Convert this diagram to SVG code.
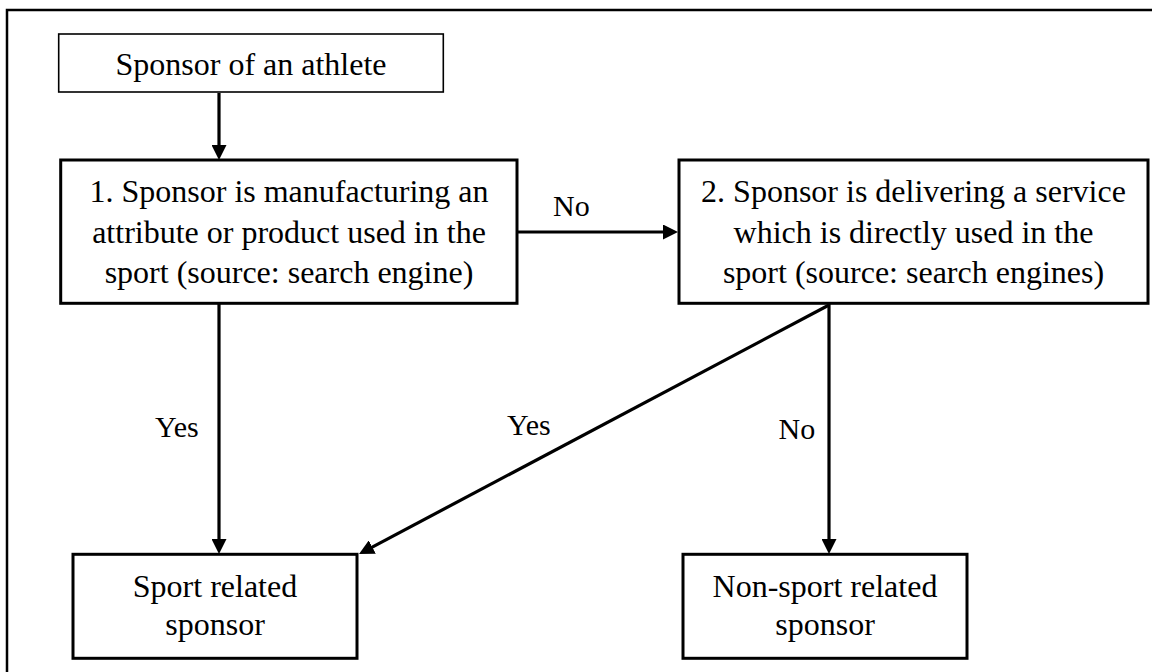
<svg xmlns="http://www.w3.org/2000/svg" width="1152" height="672" viewBox="0 0 1152 672">
<style>
.box{fill:#fff;stroke:#000;stroke-width:3}
.thin{fill:#fff;stroke:#000;stroke-width:1.6}
.t{font-size:32px;fill:#000;text-anchor:middle}
.l{font-size:30px;fill:#000}
.c{stroke:#000;stroke-width:3.2;fill:none;marker-end:url(#ah)}
</style>
<defs>
<marker id="ah" markerUnits="userSpaceOnUse" viewBox="0 0 15 15" refX="7" refY="7.5" markerWidth="15" markerHeight="15" orient="auto">
<path d="M0,0 L15,7.5 L0,15 Z" fill="#000"/>
</marker>
</defs>
<rect x="0" y="0" width="1152" height="672" fill="#fff"/>
<rect x="7" y="10" width="1160" height="680" fill="none" stroke="#000" stroke-width="2.5"/>
<g id="connectors">
<line class="c" x1="219" y1="93" x2="219" y2="152"/>
<line class="c" x1="517" y1="232" x2="670" y2="232"/>
<line class="c" x1="219" y1="303" x2="219" y2="546"/>
<line class="c" x1="829" y1="303" x2="829" y2="546"/>
<line class="c" x1="829" y1="305" x2="366.1" y2="550.3"/>
</g>
<g font-family="'Liberation Serif', 'Times New Roman', 'DejaVu Serif', serif">
<g id="labels">
<text class="l" x="553" y="216">No</text>
<text class="l" x="155" y="437">Yes</text>
<text class="l" x="507" y="435">Yes</text>
<text class="l" x="778.6" y="439">No</text>
</g>
<g id="start">
<rect class="thin" x="58.7" y="34" width="384.6" height="58"/>
<text class="t" x="251" y="75">Sponsor of an athlete</text>
</g>
<g id="q1">
<rect class="box" x="60.7" y="160" width="456.3" height="143.3"/>
<text class="t" x="289" y="201.7">1. Sponsor is manufacturing an</text>
<text class="t" x="289" y="243">attribute or product used in the</text>
<text class="t" x="289" y="283">sport (source: search engine)</text>
</g>
<g id="q2">
<rect class="box" x="679" y="160" width="469" height="143.3"/>
<text class="t" x="913.5" y="201.7">2. Sponsor is delivering a service</text>
<text class="t" x="913.5" y="243">which is directly used in the</text>
<text class="t" x="913.5" y="283">sport (source: search engines)</text>
</g>
<g id="sport">
<rect class="box" x="73" y="554.3" width="284" height="104"/>
<text class="t" x="215" y="597">Sport related</text>
<text class="t" x="215" y="635">sponsor</text>
</g>
<g id="nonsport">
<rect class="box" x="683" y="554.3" width="284" height="104"/>
<text class="t" x="825" y="597">Non-sport related</text>
<text class="t" x="825" y="635">sponsor</text>
</g>
</g>
</svg>
